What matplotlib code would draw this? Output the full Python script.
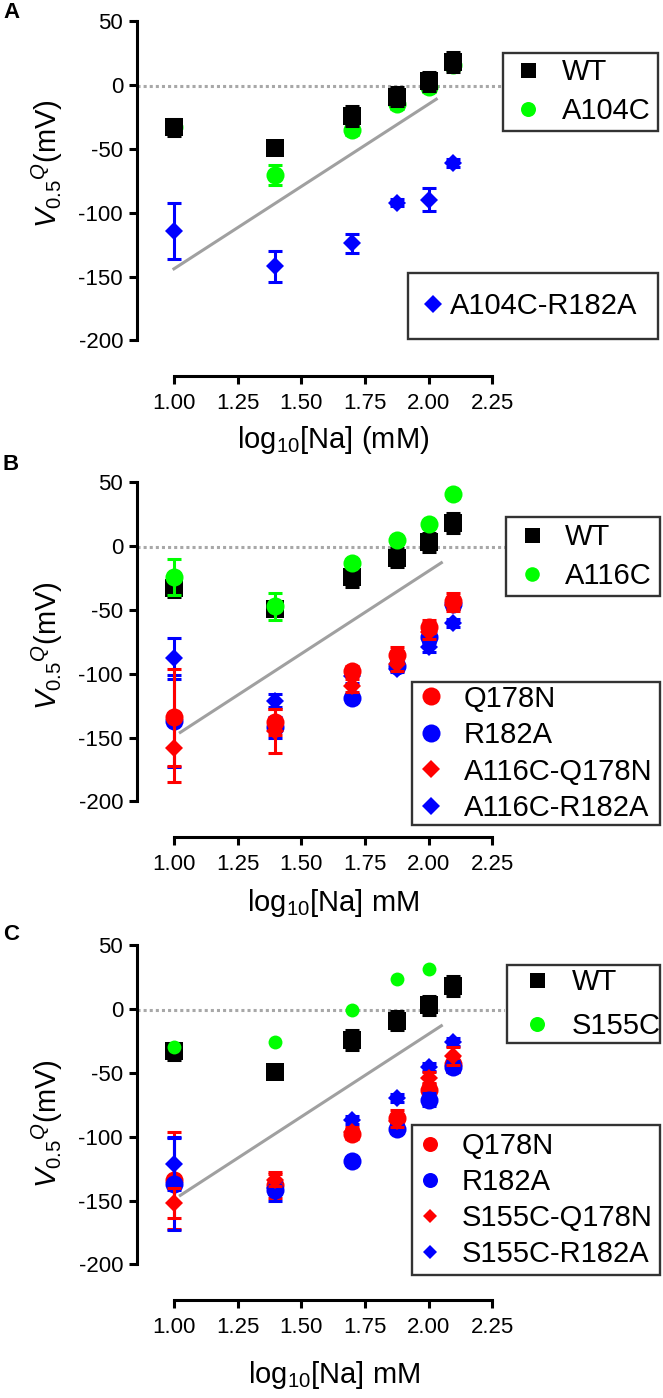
import numpy as np
import matplotlib
matplotlib.use('Agg')
import matplotlib.pyplot as plt
from matplotlib.lines import Line2D

plt.rcParams['font.family'] = ['Liberation Sans', 'DejaVu Sans']
plt.rcParams['mathtext.fontset'] = 'custom'
plt.rcParams['mathtext.rm'] = 'Liberation Sans'
plt.rcParams['mathtext.it'] = 'Liberation Sans:italic'
plt.rcParams['mathtext.bf'] = 'Liberation Sans:bold'
plt.rcParams['axes.unicode_minus'] = False

# ---------------- data ----------------
log_na = [1.0, 1.398, 1.699, 1.875, 2.0, 2.097]
x_ticks = [1.00, 1.25, 1.50, 1.75, 2.00, 2.25]
x_ticklabels = ['1.00', '1.25', '1.50', '1.75', '2.00', '2.25']
y_ticks = [-200, -150, -100, -50, 0, 50]
y_ticklabels = ['-200', '-150', '-100', '-50', '0', '50']

wt = [-33, -49, -24, -9, 3, 18]
wt_err = [6.5, 3, 8, 7.5, 7.5, 8]

# panel A
a104c = [-33, -70.5, -35, -14.5, -1.5, 16]
a104c_err = [5, 8, 4, 4, 4, 4]
a104c_r182a = [-114.5, -142, -124, -92, -90, -61]
a104c_r182a_err = [22, 12, 7.5, 3, 9, 3]
fit_a_x = [1.0, 2.03]
fit_a_y = [-144, -11]

# shared mutants
q178n = [-134, -138, -98, -85, -63, -43]
q178n_err = [38, 10, 4, 6, 5, 6.5]
r182a = [-137, -142, -119, -94, -71, -45]
r182a_err = [36, 8, 3, 3, 5, 4]

# panel B
a116c = [-24, -47, -13, 4.5, 17, 40.5]
a116c_err = [14, 10.5, 3, 3, 3, 3]
a116c_q178n = [-158, -145, -109.5, -92.5, -67.5, -46]
a116c_q178n_err = [27, 17, 5, 5, 5, 5]
a116c_r182a = [-88, -121, -102, -96, -79, -60]
a116c_r182a_err = [16, 5, 5, 3, 4, 3]
fit_b_x = [1.025, 2.05]
fit_b_y = [-146, -13]

# panel C
s155c = [-30, -26, -1, 24, 31.5, np.nan]
s155c_q178n = [-152, -134, -96, -88, -54, -37]
s155c_q178n_err = [12, 5, 4, 4, 5, 7]
s155c_r182a = [-121, -140, -87, -69.5, -45.5, -25.5]
s155c_r182a_err = [21, 5, 3, 3, 3, 3]
fit_c_x = [1.025, 2.05]
fit_c_y = [-146, -13]

zero_level = -1

# ---------------- layout ----------------
W, H = 663, 1398
fig = plt.figure(figsize=(W / 100, H / 100), dpi=100)


def fx(px):
    return px / W


def fy(py):
    return 1 - py / H


AX_LEFT = 137
AX_H = 361
XLIM = (0.855, 2.30)
YLIM = (-228, 55)
AX_W = (XLIM[1] - XLIM[0]) * 254.7

BLUE = '#0000ff'
RED = '#ff0000'
GREEN = '#00ff00'
BLACK = '#000000'
GRAY = '#a0a0a0'
DOTGRAY = '#a8a8a8'

TICK_FS = 16
LEG_FS = 21
LAB_FS = 21


def make_axes(bottom_px):
    ax = fig.add_axes([fx(AX_LEFT), fy(bottom_px), AX_W / W, AX_H / H])
    ax.set_xlim(*XLIM)
    ax.set_ylim(*YLIM)
    for s in ['top', 'right']:
        ax.spines[s].set_visible(False)
    ax.spines['left'].set_bounds(-200, 50)
    ax.spines['bottom'].set_bounds(1.0, 2.25)
    for s in ['left', 'bottom']:
        ax.spines[s].set_linewidth(2.2)
    ax.set_xticks(x_ticks)
    ax.set_xticklabels(x_ticklabels)
    ax.set_yticks(y_ticks)
    ax.set_yticklabels(y_ticklabels)
    ax.tick_params(axis='both', direction='out', length=6, width=2.2,
                   labelsize=TICK_FS, colors='black')
    ax.tick_params(axis='x', pad=6)
    ax.tick_params(axis='y', pad=4)
    ax.patch.set_visible(False)
    ax.plot(XLIM, [zero_level, zero_level], color=DOTGRAY, lw=2.2,
            ls=(0, (1, 1)), zorder=1)
    return ax


def eb(ax, y, err, marker, color, ms, z):
    if err is not None:
        ax.errorbar(log_na, y, yerr=err, fmt='none', ecolor=color,
                    elinewidth=2.2, capsize=5, capthick=2.2, zorder=z)
    ax.plot(log_na, y, ls='none', marker=marker, color=color, ms=ms,
            mew=0, zorder=z + 0.5)


def add_legend(ax, items, left, top, right, bottom, spacing, mk_off, txt_off):
    F = LEG_FS * 100 / 72.0
    rowh = 27.4
    n = len(items)
    ls = (spacing - rowh) / F if n > 1 else 0.3
    b = (bottom - top - n * rowh - (n - 1) * ls * F) / (2 * F)
    hl = 2 * (mk_off / F - b)
    tp = txt_off / F - b - hl
    handles = [Line2D([], [], ls='none', marker=m, color=c, ms=s, mew=0)
               for (m, c, s, _) in items]
    labels = [lab for (_, _, _, lab) in items]
    leg = ax.legend(handles, labels, loc='upper left',
                    bbox_to_anchor=(fx(left), fy(top), fx(right) - fx(left), 0),
                    bbox_transform=fig.transFigure, mode='expand',
                    borderaxespad=0, borderpad=b, labelspacing=ls,
                    handlelength=hl, handletextpad=tp, handleheight=0.7,
                    numpoints=1, fontsize=LEG_FS, frameon=True, fancybox=False,
                    framealpha=1, edgecolor='#333333', facecolor='white')
    leg.get_frame().set_linewidth(1.7)
    leg.set_zorder(20)
    return leg


def ylabel(cx, cy):
    fig.text(fx(cx), fy(cy), r'$\mathit{V}_{0.5}{}^{Q}$(mV)', rotation=90,
             ha='center', va='center', fontsize=LAB_FS)


# ---------------- panel A ----------------
axA = make_axes(376)
axA.plot(fit_a_x, fit_a_y, color=GRAY, lw=2.2, zorder=2)
eb(axA, a104c_r182a, a104c_r182a_err, 'D', BLUE, 9.2, 3)
eb(axA, a104c, a104c_err, 'o', GREEN, 13, 4)
eb(axA, wt, wt_err, 's', BLACK, 13, 5)
legA1 = add_legend(axA, [('s', BLACK, 10.8, 'WT'), ('o', GREEN, 10.8, 'A104C')],
                   502.7, 52.7, 658.3, 129.3, 38.4, 25.3, 59)
axA.add_artist(legA1)
add_legend(axA, [('D', BLUE, 9.5, 'A104C-R182A')],
           407.7, 272.7, 658.3, 338.3, 0, 25.6, 42.3)
ylabel(47, 164)
fig.text(fx(333), fy(440), r'log$_{10}$[Na] (mM)', ha='center', va='center', fontsize=LAB_FS)
fig.text(fx(3), fy(13), 'A', ha='left', va='center', fontsize=16, fontweight='bold')

# ---------------- panel B ----------------
axB = make_axes(837)
axB.plot(fit_b_x, fit_b_y, color=GRAY, lw=2.2, zorder=2)
eb(axB, r182a, r182a_err, 'o', BLUE, 13, 3)
eb(axB, a116c_r182a, a116c_r182a_err, 'D', BLUE, 9.2, 4)
eb(axB, q178n, q178n_err, 'o', RED, 13, 5)
eb(axB, a116c_q178n, a116c_q178n_err, 'D', RED, 9.2, 6)
eb(axB, wt, wt_err, 's', BLACK, 13, 7)
eb(axB, a116c, a116c_err, 'o', GREEN, 13, 8)
legB1 = add_legend(axB, [('s', BLACK, 10.8, 'WT'), ('o', GREEN, 10.5, 'A116C')],
                   506, 517.3, 660, 595, 38.3, 25.7, 59)
axB.add_artist(legB1)
add_legend(axB, [('o', RED, 13, 'Q178N'), ('o', BLUE, 13, 'R182A'),
                 ('D', RED, 9.2, 'A116C-Q178N'), ('D', BLUE, 9.2, 'A116C-R182A')],
           411.7, 681.7, 660, 822.7, 35.9, 19, 52.3)
ylabel(47, 646)
fig.text(fx(333), fy(903), r'log$_{10}$[Na] mM', ha='center', va='center', fontsize=LAB_FS)
fig.text(fx(3), fy(465), 'B', ha='left', va='center', fontsize=16, fontweight='bold')

# ---------------- panel C ----------------
axC = make_axes(1300)
axC.plot(fit_c_x, fit_c_y, color=GRAY, lw=2.2, zorder=2)
eb(axC, q178n, q178n_err, 'o', RED, 13, 3)
eb(axC, r182a, r182a_err, 'o', BLUE, 13, 4)
eb(axC, s155c_r182a, s155c_r182a_err, 'D', BLUE, 9.2, 5)
eb(axC, s155c_q178n, s155c_q178n_err, 'D', RED, 9.2, 6)
eb(axC, wt, wt_err, 's', BLACK, 13, 7)
eb(axC, s155c, None, 'o', GREEN, 10, 8)
legC1 = add_legend(axC, [('s', BLACK, 10.8, 'WT'), ('o', GREEN, 10.8, 'S155C')],
                   507.3, 965, 660, 1041.7, 43.3, 29.4, 64.4)
axC.add_artist(legC1)
add_legend(axC, [('o', RED, 10.8, 'Q178N'), ('o', BLUE, 10.8, 'R182A'),
                 ('D', RED, 7.6, 'S155C-Q178N'), ('D', BLUE, 7.6, 'S155C-R182A')],
           412.3, 1125, 660, 1272.7, 35.5, 17.7, 49.4)
ylabel(47, 1124)
fig.text(fx(334), fy(1375), r'log$_{10}$[Na] mM', ha='center', va='center', fontsize=LAB_FS)
fig.text(fx(3), fy(935), 'C', ha='left', va='center', fontsize=16, fontweight='bold')

fig.savefig('out.png', dpi=100)
